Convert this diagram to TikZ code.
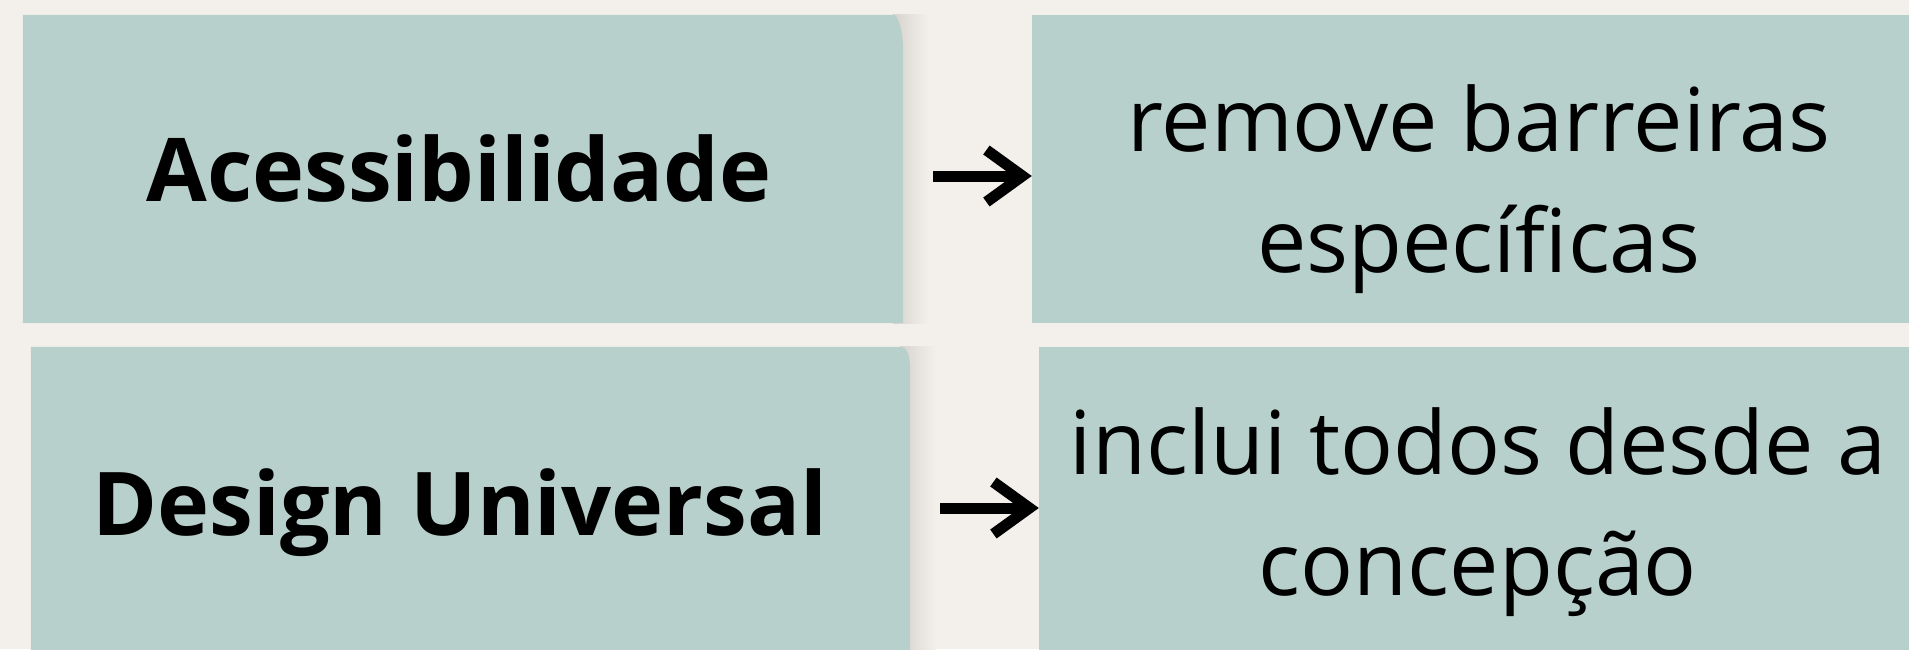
\documentclass[tikz,border=0pt]{standalone}
\usepackage{fontspec}
\setmainfont{Open Sans}
\usetikzlibrary{arrows.meta}
\definecolor{paper}{HTML}{F3F0EC}
\definecolor{sage}{HTML}{B8D0CB}
\definecolor{shadowgrey}{HTML}{D8D3CF}

\begin{document}
\begin{tikzpicture}[x=1pt, y=-1pt,
  box/.style={inner sep=0pt, minimum height=308pt},
  term/.style={font=\fontsize{88}{121}\selectfont\bfseries, anchor=base, inner sep=0pt},
  gloss/.style={font=\fontsize{88}{121}\selectfont, align=center, inner sep=0pt},
  link/.style={line width=11pt, -{Straight Barb[length=36pt,width=52pt]}, shorten <=30pt},
]
  \useasboundingbox (0,0) rectangle (1909,649);
  \clip (0,0) rectangle (1909,649);
  \fill[paper] (0,0) rectangle (1909,649);

  % boxes
  \node[box, minimum width=880pt] (accbox) at (463,169) {};
  \node[box, minimum width=879pt, minimum height=322pt] (udbox) at (470.5,508) {};
  \node[box, fill=sage, minimum width=894pt] (accdescbox) at (1479,169) {};
  \node[box, fill=sage, minimum width=887pt, minimum height=322pt] (uddescbox) at (1482.5,508) {};

  % left boxes: shadow and curled corner
  \foreach \b/\r in {accbox/36, udbox/23} {
    \shade[left color=shadowgrey, right color=paper] ([xshift=-10pt]\b.north east) rectangle ([xshift=26pt]\b.south east);
    \fill[sage] (\b.south west) |- ([xshift=-10pt]\b.north east)
      .. controls +(6,0) and +(0,-16) .. ([yshift=-\r pt]\b.north east) -- (\b.south east) -- cycle;
  }

  \node[term] (acc) at (459,201) {Acessibilidade};
  \node[term] (ud) at (460,535) {Design Universal};
  \node[gloss] (accdesc) at (1479,189) {remove barreiras\\específicas};
  \node[gloss] (uddesc) at (1478,512) {inclui todos desde a\\concepção};

  \draw[link] ([yshift=-7pt]accbox.east) -- ([yshift=-7pt]accdescbox.west);
  \draw[link] (udbox.east) -- (uddescbox.west);
\end{tikzpicture}
\end{document}
